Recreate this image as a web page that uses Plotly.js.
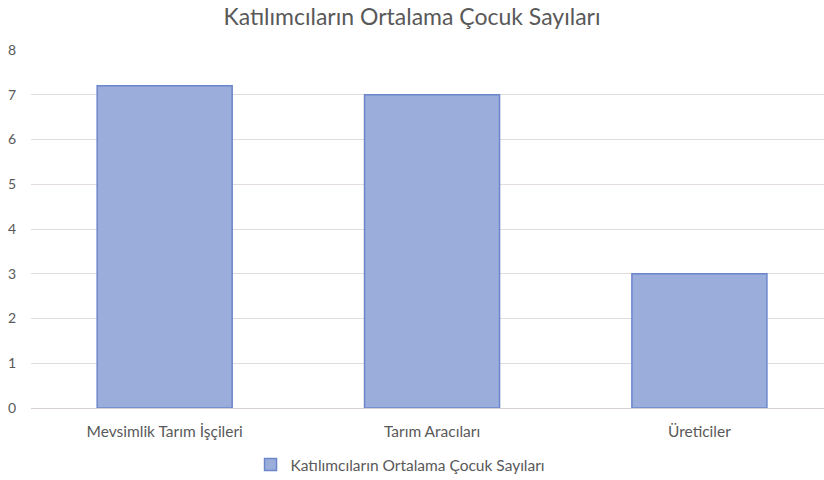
<!DOCTYPE html>
<html><head><meta charset="utf-8">
<script src="https://cdn.plot.ly/plotly-3.0.1.min.js"></script>
<style>html,body{margin:0;padding:0;background:#fff}#c{width:824px;height:480px}</style>
</head><body><div id="c"></div>
<script>
const categories = ["Mevsimlik Tarım İşçileri", "Tarım Aracıları", "Üreticiler"];
const values = [7.2, 7.0, 3.0];
const seriesName = "Katılımcıların Ortalama Çocuk Sayıları";
const chartTitle = "Katılımcıların Ortalama Çocuk Sayıları";
const yTicks = [0, 1, 2, 3, 4, 5, 6, 7, 8];

const trace = {
  type: "bar", x: categories, y: values, name: seriesName,
  marker: {color: "#9badda", line: {color: "#6c86cc", width: 1.5}},
  hoverinfo: "skip"
};
const layout = {
  width: 824, height: 480,
  margin: {l: 31, r: 0, t: 50, b: 72, autoexpand: false},
  paper_bgcolor: "#fff", plot_bgcolor: "#fff",
  font: {family: "Lato, 'Open Sans', sans-serif", color: "#595959", size: 15},
  title: {text: chartTitle, x: 0.5, xanchor: "center", y: 0.965, yanchor: "middle",
          font: {size: 23, color: "#595959", family: "Lato, 'Open Sans', sans-serif"}},
  bargap: 0.495,
  showlegend: true,
  legend: {orientation: "h", x: 0.466, xanchor: "center", y: -0.159, yanchor: "middle",
           itemwidth: 30, font: {size: 15.5, color: "#595959"}},
  xaxis: {type: "category", range: [-0.5, 2.466], showgrid: false, zeroline: false,
          showline: false, ticks: "", ticklabelstandoff: 12, tickfont: {size: 15.5, color: "#595959"}},
  yaxis: {range: [0, 8], tickvals: yTicks, showgrid: true, gridcolor: "#e2dcdc", gridwidth: 1,
          zeroline: true, zerolinecolor: "#d6d0d0", zerolinewidth: 1, showline: false,
          ticks: "", ticklabelstandoff: 14, tickfont: {size: 14, color: "#595959"}}
};
Plotly.newPlot("c", [trace], layout, {displayModeBar: false, staticPlot: true});
</script></body></html>
